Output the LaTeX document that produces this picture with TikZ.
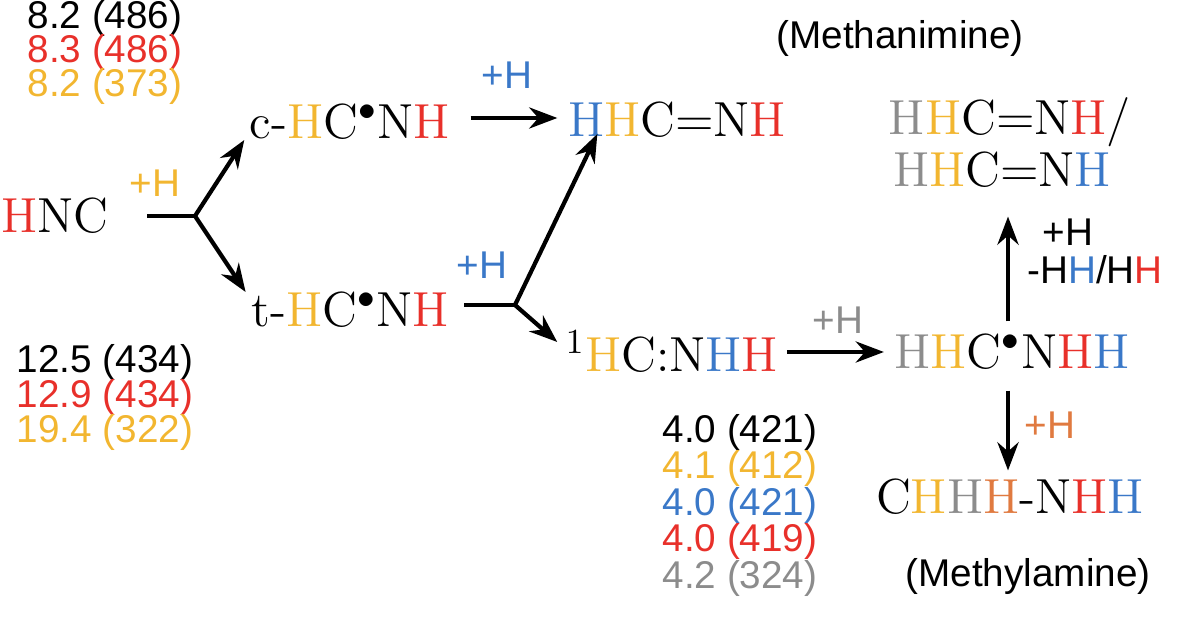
\documentclass[tikz,border=0pt]{standalone}
\usepackage{fontspec}
\setsansfont{Liberation Sans}
\usetikzlibrary{arrows.meta,calc}
\definecolor{cy}{HTML}{F2B630}
\definecolor{cr}{HTML}{E8302A}
\definecolor{cb}{HTML}{3A78C8}
\definecolor{cg}{HTML}{8C8C8C}
\definecolor{co}{HTML}{E07A40}
\newcommand{\Y}[1]{\textcolor{cy}{#1}}
\newcommand{\R}[1]{\textcolor{cr}{#1}}
\newcommand{\B}[1]{\textcolor{cb}{#1}}
\newcommand{\G}[1]{\textcolor{cg}{#1}}
\newcommand{\rad}{$^{\bullet}$}
\begin{document}
\begin{tikzpicture}[x=0.01cm,y=-0.01cm,
    mol/.style={inner sep=0pt,font=\fontsize{14}{16}\selectfont},
    lab/.style={inner sep=0pt,font=\sffamily\fontsize{11}{13}\selectfont},
    arr/.style={-{Stealth[length=8pt,width=6pt]},line width=1.2pt},
    ln/.style={line width=1.2pt}]
	\useasboundingbox (0,0) rectangle (1200,622);
	% species
	\node[mol] (hnc) at (55,216) {\R{H}NC};
	\node[mol] (chcnh) at (350,122) {c-\Y{H}C\rad N\R{H}};
	\node[mol] (thcnh) at (350,310) {t-\Y{H}C\rad N\R{H}};
	\node[mol] (imine) at (677,120) {\B{H}\Y{H}C$=$N\R{H}};
	\node[mol] (hcnhh) at (672,352) {$^1$\Y{H}C:N\B{H}\R{H}};
	\node[mol] (rad) at (1012,352) {\G{H}\Y{H}C\rad N\R{H}\B{H}};
	\node[mol] (prodA) at (1010,122) {\G{H}\Y{H}C$=$N\R{H}/};
	\node[mol] (prodB) at (1002,170) {\G{H}\Y{H}C$=$N\B{H}};
	\node[mol] (amine) at (1010,497) {C\Y{H}\G{H}\textcolor{co}{H}-N\R{H}\B{H}};
	\node[lab] (name1) at (900,38) {(Methanimine)};
	\node[lab] (name2) at (1028,577) {(Methylamine)};
	% energies
	\node[lab] (e1) at (105,18) {8.2 (486)};
	\node[lab,cr] (e2) at (105,52) {8.3 (486)};
	\node[lab,cy] (e3) at (105,86) {8.2 (373)};
	\node[lab] (e4) at (105,362) {12.5 (434)};
	\node[lab,cr] (e5) at (105,397) {12.9 (434)};
	\node[lab,cy] (e6) at (105,432) {19.4 (322)};
	\node[lab] (e7) at (740,432) {4.0 (421)};
	\node[lab,cy] (e8) at (740,468) {4.1 (412)};
	\node[lab,cb] (e9) at (740,505) {4.0 (421)};
	\node[lab,cr] (e10) at (740,541) {4.0 (419)};
	\node[lab,cg] (e11) at (740,578) {4.2 (324)};
	% reactions
	\coordinate (b1) at (195,216);
	\coordinate (b2) at (515,305);
	\draw[ln] ($(hnc.east)+(38,0)$) -- (b1);
	\draw[arr] (b1) -- ($(chcnh.west)+(-5,18)$);
	\draw[arr] (b1) -- ($(thcnh.west)+(-5,-18)$);
	\node[lab,cy] (h1) at (155,183) {+H};
	\draw[arr] ($(chcnh.east)+(20,-4)$) -- ($(imine.west)+(-10,-2)$);
	\node[lab,cb] (h2) at (507,75) {+H};
	\draw[ln] ($(thcnh.east)+(15,-5)$) -- (b2);
	\draw[arr] (b2) -- ($(imine.west)+(30,14)$);
	\draw[arr] (b2) -- ($(hcnhh.west)+(-8,-10)$);
	\node[lab,cb] (h3) at (482,265) {+H};
	\draw[arr] ($(hcnhh.east)+(8,0)$) -- ($(rad.west)+(-10,0)$);
	\node[lab,cg] (h4) at (838,320) {+H};
	\draw[arr] ($(rad.north)+(-4,-12)$) -- ($(prodB.south)+(6,28)$);
	\node[lab] (h5) at (1068,232) {+H};
	\node[lab] (h6) at (1095,270) {-H\B{H}/H\R{H}};
	\draw[arr] ($(rad.south)+(-4,20)$) -- ($(amine.north)+(-2,-8)$);
	\node[lab,co] (h7) at (1050,425) {+H};
\end{tikzpicture}
\end{document}
